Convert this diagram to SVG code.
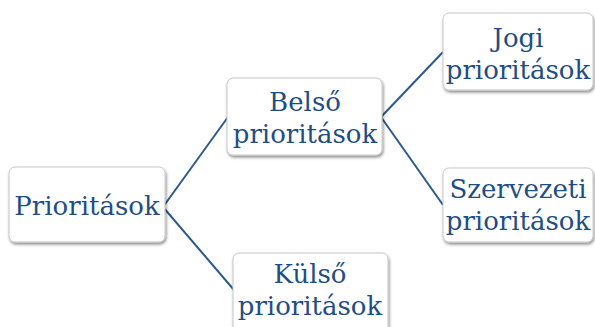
<svg xmlns="http://www.w3.org/2000/svg" width="595" height="327" viewBox="0 0 595 327">
<defs>
<filter id="sh" x="-10%" y="-10%" width="125%" height="130%">
<feGaussianBlur in="SourceAlpha" stdDeviation="1.5"/>
<feOffset dx="1" dy="2" result="b"/>
<feComponentTransfer><feFuncA type="linear" slope="0.45"/></feComponentTransfer>
<feMerge><feMergeNode/><feMergeNode in="SourceGraphic"/></feMerge>
</filter>
</defs>
<style>
.box{fill:#fff;stroke:#c8c8c8;stroke-width:1;filter:url(#sh)}
.t{font-family:"DejaVu Serif","Liberation Serif",serif;font-size:26px;fill:#1f4e85;text-anchor:middle}
.c{stroke:#2c5a8c;stroke-width:2;fill:none}
</style>
<rect width="595" height="327" fill="#fff"/>
<g id="connectors">
<path class="c" d="M163,207 L228,117"/>
<path class="c" d="M163,207 L234,290"/>
<path class="c" d="M381,117 L443,52"/>
<path class="c" d="M381,117 L443,205"/>
</g>
<g id="n-prioritasok">
<rect class="box" x="9" y="167" width="156" height="75" rx="6"/>
<text class="t" x="87" y="215">Prioritások</text>
</g>
<g id="n-belso">
<rect class="box" x="227" y="78" width="155" height="77" rx="6"/>
<text class="t" x="305" y="111">Belső</text>
<text class="t" x="305" y="143">prioritások</text>
</g>
<g id="n-jogi">
<rect class="box" x="443" y="13" width="150" height="77" rx="6"/>
<text class="t" x="518" y="47">Jogi</text>
<text class="t" x="518" y="79">prioritások</text>
</g>
<g id="n-szervezeti">
<rect class="box" x="443" y="168" width="150" height="74" rx="6"/>
<text class="t" x="518" y="198">Szervezeti</text>
<text class="t" x="518" y="230">prioritások</text>
</g>
<g id="n-kulso">
<rect class="box" x="233" y="253" width="155" height="80" rx="6"/>
<text class="t" x="310" y="283">Külső</text>
<text class="t" x="310" y="315">prioritások</text>
</g>
</svg>
